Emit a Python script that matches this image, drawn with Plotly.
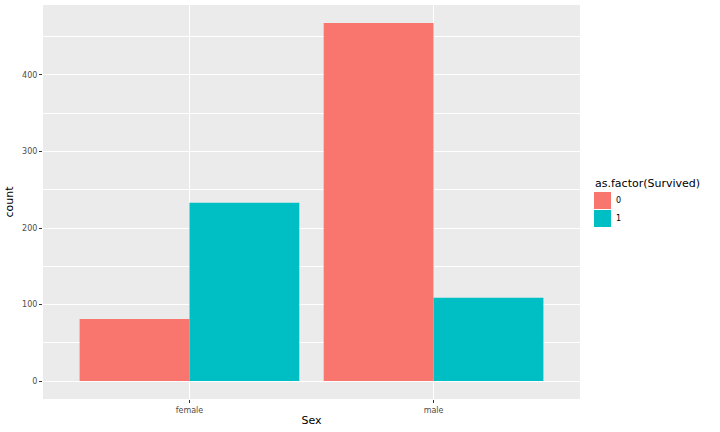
from plotly import graph_objects as go

sexes = ['female', 'male']
died = [81, 468]
survived = [233, 109]
y_ticks = [0, 100, 200, 300, 400]
legend_title = 'as.factor(Survived)'
legend_labels = ['0', '1']
colours = ['#f8766d', '#00bfc4']

panel_bg = '#ebebeb'
tick_font = dict(family='DejaVu Sans', size=8, color='#4d4d4d')

fig = go.Figure()
fig.add_trace(go.Bar(x=sexes, y=died, name=legend_labels[0],
                     marker=dict(color=colours[0], line_width=0)))
fig.add_trace(go.Bar(x=sexes, y=survived, name=legend_labels[1],
                     marker=dict(color=colours[1], line_width=0)))

fig.update_layout(
    width=720, height=432,
    barmode='group', bargap=0.1, bargroupgap=0,
    paper_bgcolor='white', plot_bgcolor=panel_bg,
    font=dict(family='DejaVu Sans', size=11, color='black'),
    margin=dict(l=43, r=140, t=5, b=33),
    showlegend=False,
)

# ggplot-style legend: big square keys drawn by hand
fig.add_annotation(text=legend_title, xref='paper', yref='paper', x=1.025, y=0.548,
                   xanchor='left', yanchor='middle', showarrow=False,
                   font=dict(size=11, color='black'))
key_tops = [0.5254, 0.4797]
for label, colour, top in zip(legend_labels, colours, key_tops):
    fig.add_shape(type='rect', xref='paper', yref='paper', x0=1.0261, x1=1.0577,
                  y0=top - 0.0432, y1=top, fillcolor=colour, line_width=0)
    fig.add_annotation(text=label, xref='paper', yref='paper', x=1.063, y=top - 0.0216,
                       xanchor='left', yanchor='middle', showarrow=False,
                       font=dict(size=8, color='black'))

fig.update_xaxes(range=[-0.6, 1.6], showgrid=True, gridcolor='white', gridwidth=1.1,
                 ticks='outside', ticklen=3, tickcolor='#333333', tickwidth=1,
                 tickfont=tick_font, zeroline=False, fixedrange=True,
                 title=dict(text='Sex', font=dict(size=11), standoff=2))
fig.update_yaxes(range=[-23.4, 491.4], tickvals=y_ticks, showgrid=True, gridcolor='white',
                 gridwidth=1.1, minor=dict(dtick=100, tick0=50, showgrid=True,
                                           gridcolor='white', gridwidth=0.5),
                 ticks='outside', ticklen=3, tickcolor='#333333', tickwidth=1,
                 tickfont=tick_font, zeroline=False,
                 title=dict(text='count', font=dict(size=11), standoff=6))

# page body has an 8px default margin, drop it so the figure sits at the corner
fig.write_html("out.html", config={'displayModeBar': False},
               post_script="document.body.style.margin='0';")
